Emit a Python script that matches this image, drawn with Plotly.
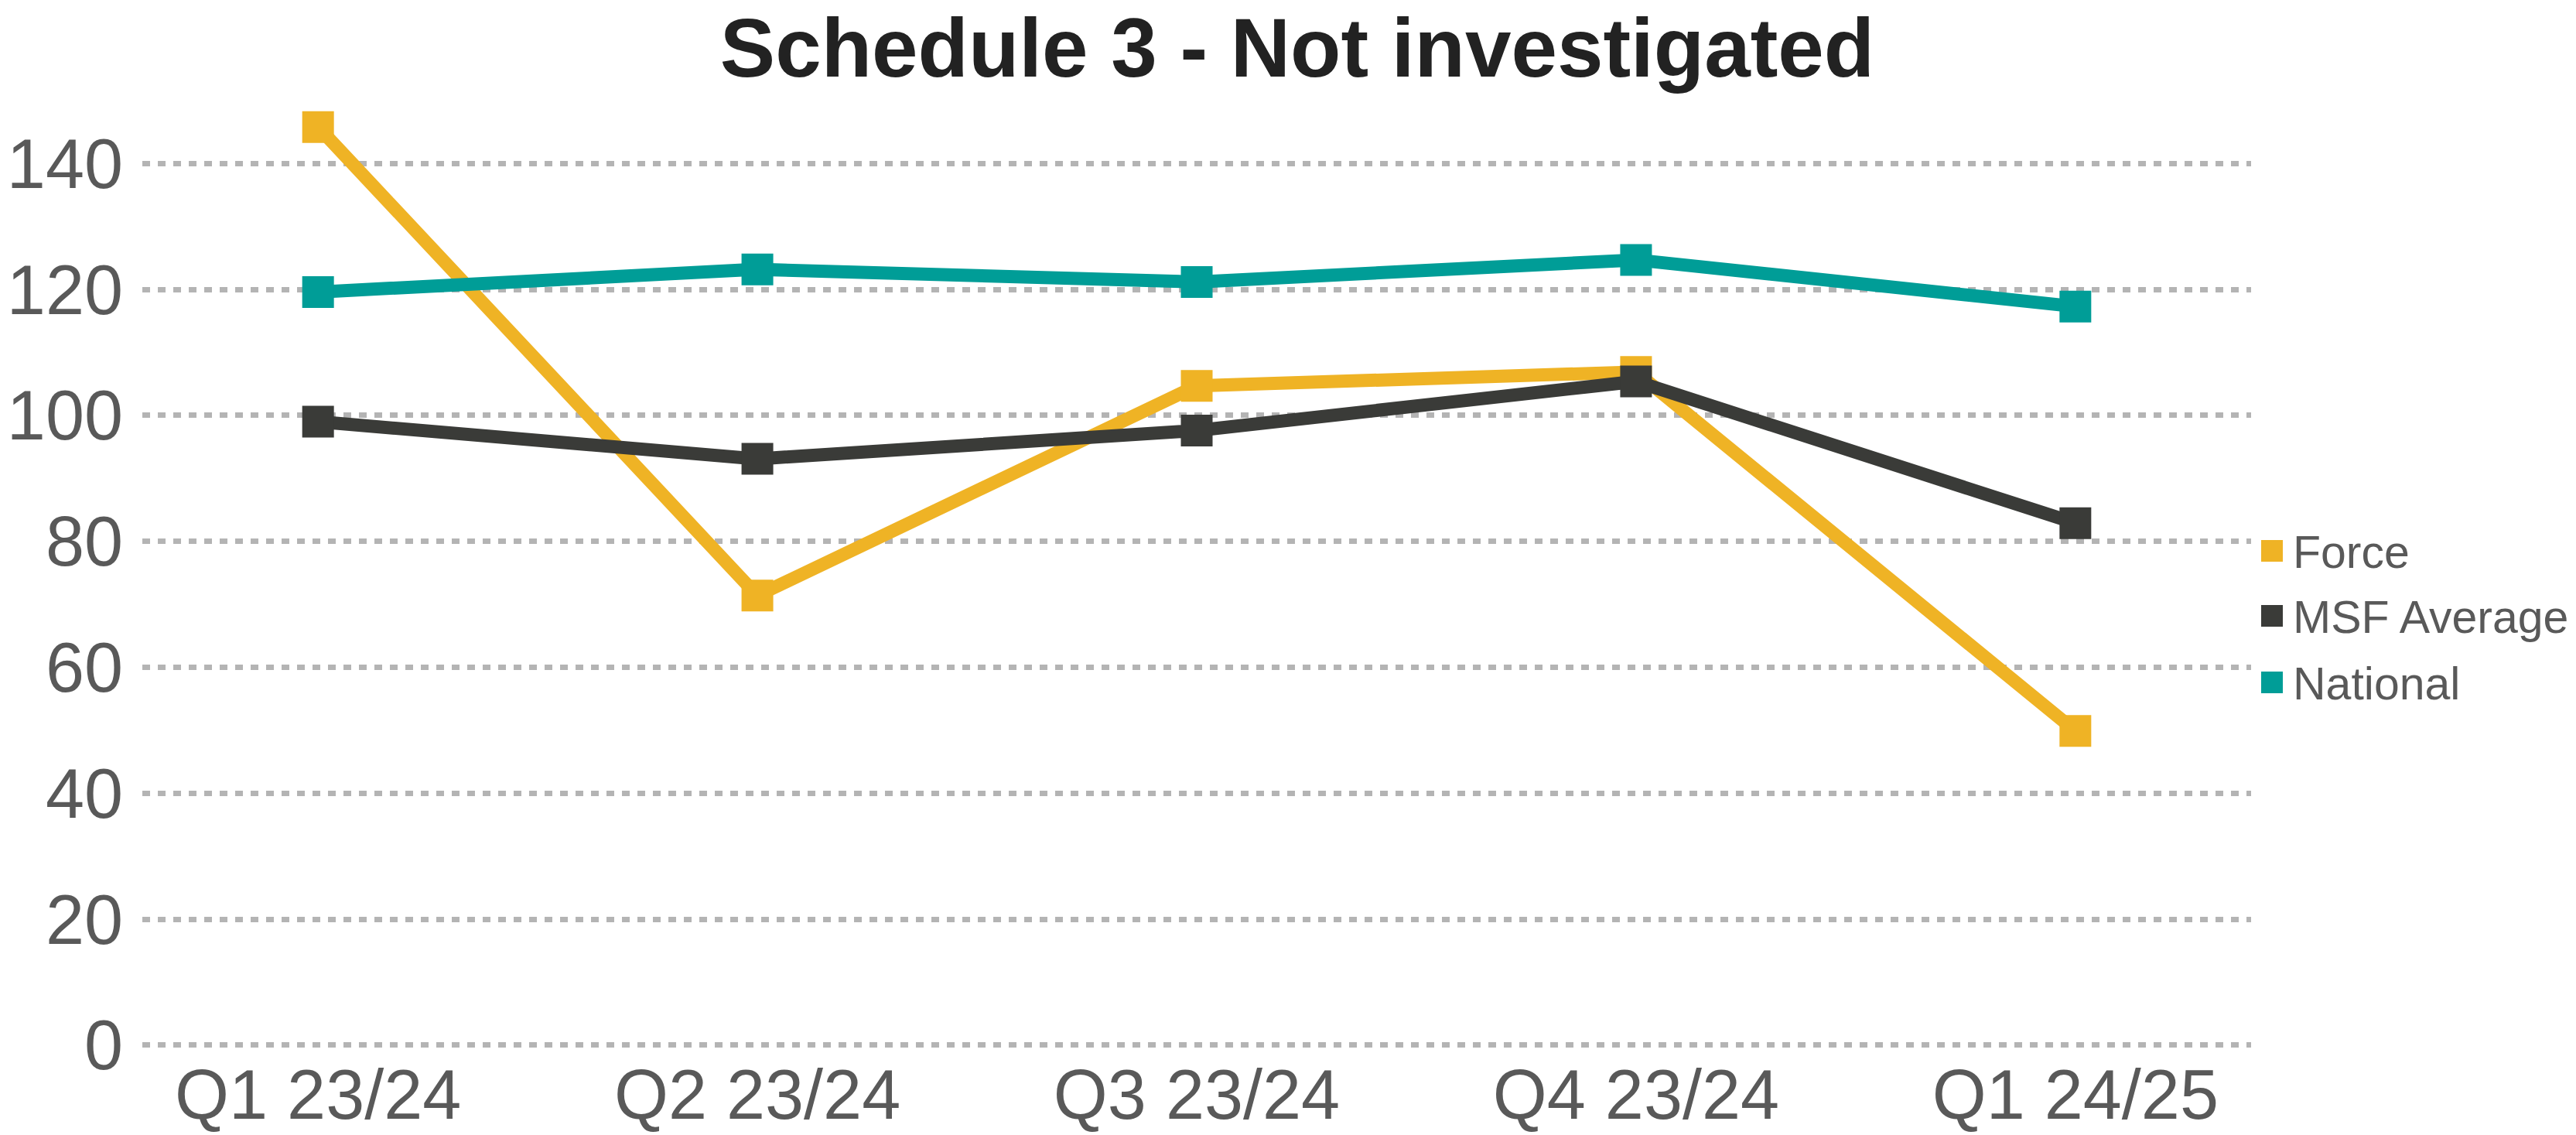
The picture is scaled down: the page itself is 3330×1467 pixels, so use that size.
import plotly.graph_objects as go

categories = ["Q1 23/24", "Q2 23/24", "Q3 23/24", "Q4 23/24", "Q1 24/25"]
force = [145.8, 71.4, 104.7, 106.9, 49.9]
msf_average = [99.0, 93.1, 97.6, 105.4, 82.9]
national = [119.6, 123.2, 121.2, 124.7, 117.3]

y_ticks = [0, 20, 40, 60, 80, 100, 120, 140]

series_names = ["Force", "MSF Average", "National"]
series_values = [force, msf_average, national]
series_colors = ["#EFB325", "#3A3B38", "#009D97"]

W, H = 3330, 1467
plot_left, plot_right = 184, 2910
plot_top, plot_bottom = 130, 1359
y_min, y_max = -1, 150

fig = go.Figure()
x_idx = list(range(len(categories)))
for name, vals, color in zip(series_names, series_values, series_colors):
    fig.add_trace(go.Scatter(
        x=x_idx, y=vals, mode="lines+markers", name=name,
        line=dict(color=color, width=17),
        marker=dict(symbol="square", size=41, color=color, line=dict(width=0)),
        showlegend=False,
    ))

# Legend drawn as squares + text (Excel-like large square keys)
pw = plot_right - plot_left
ph = plot_bottom - plot_top
def px_x(px):
    return (px - plot_left) / pw
def px_y(py):
    return (plot_bottom - py) / ph

legend_centers = [712, 796, 882]
sq = 28
for name, color, cy in zip(series_names, series_colors, legend_centers):
    fig.add_shape(type="rect", xref="paper", yref="paper",
                  x0=px_x(2923), x1=px_x(2923 + sq),
                  y0=px_y(cy + sq / 2), y1=px_y(cy - sq / 2),
                  fillcolor=color, line=dict(width=0))
    fig.add_annotation(text=name, xref="paper", yref="paper",
                       x=px_x(2962), y=px_y(cy + 2), xanchor="left", yanchor="middle",
                       showarrow=False,
                       font=dict(family="Liberation Sans, Arial, sans-serif", size=59, color="#595959"))

tick_font = dict(family="Liberation Sans, Arial, sans-serif", size=90, color="#595959")

fig.update_layout(
    width=W, height=H,
    paper_bgcolor="white", plot_bgcolor="white",
    margin=dict(l=plot_left, r=W - plot_right, t=plot_top, b=H - plot_bottom, autoexpand=False),
    title=dict(
        text="<b>Schedule 3 - Not investigated</b>",
        font=dict(family="Liberation Sans, Arial, sans-serif", size=107, color="#222222"),
        x=1677 / W, xanchor="center", xref="container",
        y=1 - 62 / H, yanchor="middle", yref="container",
    ),
    xaxis=dict(
        range=[-0.4, 4.4],
        tickmode="array", tickvals=x_idx, ticktext=categories,
        showgrid=False, zeroline=False, showline=False,
        ticks="", tickfont=tick_font, ticklabelstandoff=-4,
    ),
    yaxis=dict(
        range=[y_min, y_max],
        tickmode="array", tickvals=y_ticks,
        showgrid=True, gridcolor="#B4B4B4", gridwidth=7, griddash="10px,10px",
        zeroline=False, showline=False,
        ticks="", tickfont=tick_font, ticklabelstandoff=24,
    ),
    showlegend=False,
)

fig.write_html(
    "out.html",
    config={"displayModeBar": False},
    post_script="document.body.style.margin='0';document.body.style.overflow='hidden';",
)
